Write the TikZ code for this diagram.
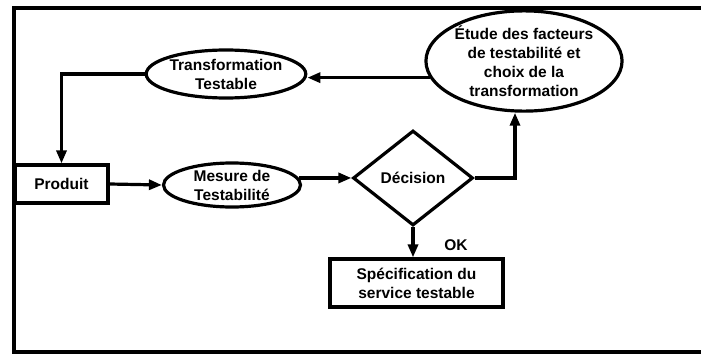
\documentclass[tikz,border=0pt]{standalone}
\usepackage{fontspec}
\setmainfont{Liberation Sans}
\usetikzlibrary{shapes.geometric,arrows.meta}
\begin{document}
\begin{tikzpicture}[x=1pt,y=-1pt,
  every node/.style={font=\bfseries\fontsize{15.5}{19}\selectfont, align=center, inner sep=0pt},
  wire/.style={line width=3.2pt},
  arr/.style={wire, -{Triangle[length=13pt,width=10pt]}},
  oval/.style={ellipse, draw, line width=3.2pt},
  boxnode/.style={rectangle, draw, line width=3.2pt},
  choice/.style={diamond, draw, line width=3.2pt}]
\useasboundingbox (0,0) rectangle (701,356);
% outer frame
\draw[wire] (705,8) -- (14,8) -- (14,352) -- (705,352);

% nodes
\node[oval, minimum width=158pt, minimum height=48pt] (trans) at (226,74) {Transformation\\Testable};
\node[oval, minimum width=192pt, minimum height=98pt] (etude) at (524,61) {Étude des facteurs\\de testabilité et\\choix de la\\transformation};
\node[boxnode, minimum width=93pt, minimum height=38pt] (produit) at (61.5,184) {Produit};
\node[oval, minimum width=137pt, minimum height=44pt] (mesure) at (232,185) {Mesure de\\Testabilité};
\node[choice, minimum width=120pt, minimum height=95pt] (decision) at (413,178) {Décision};
\node[boxnode, minimum width=173pt, minimum height=48pt] (spec) at (416.5,283) {Spécification du\\service testable};
\node (ok) at (456,245) {OK};

% connectors
\coordinate (turn) at (515,178);
\draw[arr] (etude.190) -- (etude.190 -| trans.east);
\draw[arr] (trans.west) -| (produit.north);
\draw[arr] (produit.east) -- (mesure.west);
\draw[arr] (mesure.6) -- (mesure.6 -| decision.west);
\draw[arr] (decision.east) -- (turn) -- (turn |- etude.south);
\draw[arr] (decision.south) -- (decision.south |- spec.north);
\end{tikzpicture}
\end{document}
